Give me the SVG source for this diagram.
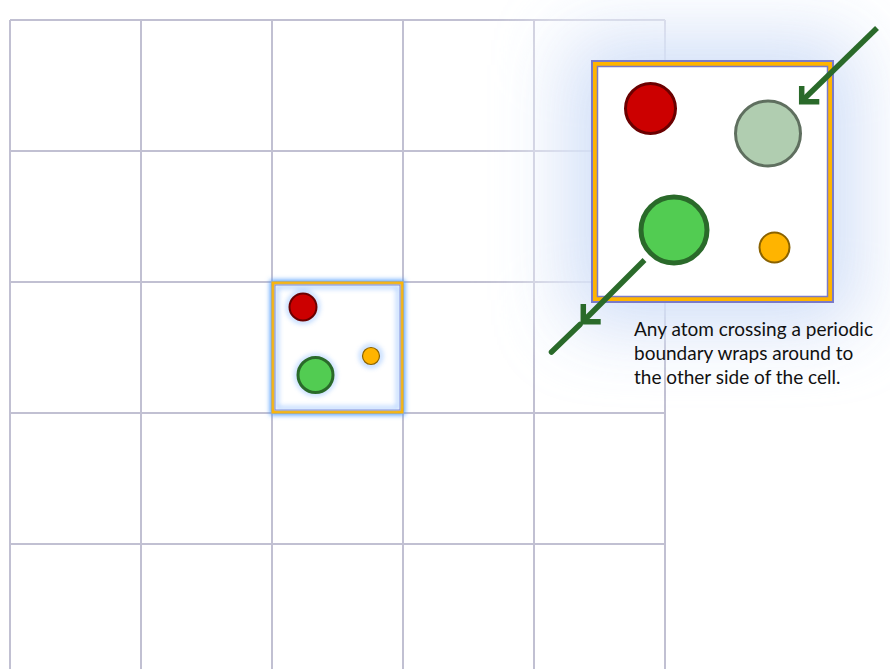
<svg xmlns="http://www.w3.org/2000/svg" width="890" height="669" viewBox="0 0 890 669">
  <defs>
    <style>
      .grid line { stroke: #c1c0d2; stroke-width: 2; }
      .arrow { fill: none; stroke: #2a6a2a; stroke-width: 5.5; }
      .caption { font-family: Lato, "Liberation Sans", sans-serif; font-size: 19px; fill: #111; }
      .red { fill: #cc0000; stroke: #6b0000; }
      .grn { fill: #52cc52; stroke: #2a6a2a; }
      .org { fill: #ffb400; stroke: #8a6200; }
    </style>
    <filter id="bigGlow" x="-60%" y="-60%" width="220%" height="220%">
      <feGaussianBlur stdDeviation="38"/>
    </filter>
    <filter id="whiteGlow" x="-40%" y="-40%" width="180%" height="180%">
      <feGaussianBlur stdDeviation="28"/>
    </filter>
    <filter id="smallGlow" x="-20%" y="-20%" width="140%" height="140%">
      <feGaussianBlur stdDeviation="2.5"/>
    </filter>
  </defs>
  <rect width="890" height="669" fill="#ffffff"/>

  <g id="grid" class="grid">
    <line x1="10" y1="20" x2="665" y2="20"/>
    <line x1="10" y1="151" x2="665" y2="151"/>
    <line x1="10" y1="282" x2="665" y2="282"/>
    <line x1="10" y1="413" x2="665" y2="413"/>
    <line x1="10" y1="544" x2="665" y2="544"/>
    <line x1="10" y1="20" x2="10" y2="669"/>
    <line x1="141" y1="20" x2="141" y2="669"/>
    <line x1="272" y1="20" x2="272" y2="669"/>
    <line x1="403" y1="20" x2="403" y2="669"/>
    <line x1="534" y1="20" x2="534" y2="669"/>
    <line x1="665" y1="20" x2="665" y2="669"/>
  </g>

  <g id="small-cell">
    <g filter="url(#smallGlow)" fill="none" stroke="#4f9bff" stroke-width="6">
      <rect x="273" y="283" width="129" height="129"/>
      <circle cx="303" cy="307" r="14"/>
      <circle cx="315.5" cy="375" r="18"/>
      <circle cx="371" cy="356" r="9"/>
    </g>
    <rect x="273" y="283" width="129" height="129" fill="#ffffff" stroke="#ffb400" stroke-width="3"/>
    <rect x="275" y="285" width="125" height="125" fill="none" stroke="#7a7ac8" stroke-width="1"/>
    <g filter="url(#smallGlow)" fill="none" stroke="#8cbcff" stroke-width="3" opacity="0.8">
      <rect x="277" y="287" width="121" height="121"/>
      <circle cx="303" cy="307" r="15"/>
      <circle cx="315.5" cy="375" r="19"/>
      <circle cx="371" cy="356" r="10"/>
    </g>
    <circle class="red" cx="303" cy="307" r="13.5" stroke-width="2"/>
    <circle class="grn" cx="315.5" cy="375" r="17.5" stroke-width="3"/>
    <circle class="org" cx="371" cy="356" r="8.5" stroke-width="1.2"/>
  </g>

  <g id="big-cell">
    <rect x="530" y="0" width="360" height="330" fill="#ffffff" opacity="0.6" filter="url(#whiteGlow)"/>
    <rect x="570" y="40" width="285" height="285" fill="#c9d9f6" opacity="0.9" filter="url(#bigGlow)"/>
    <rect x="592" y="61" width="241" height="241" fill="#ffb400" stroke="#7a7ac8" stroke-width="2"/>
    <rect x="597.5" y="66.5" width="230" height="230" fill="#ffffff" stroke="#7a7ac8" stroke-width="1.5"/>
    <circle class="red" cx="650.5" cy="108.5" r="25" stroke-width="3"/>
    <circle fill="#b0cdb0" stroke="#5f6f5f" stroke-width="3" cx="768" cy="133.5" r="32.5"/>
    <circle class="grn" cx="674" cy="230" r="33" stroke-width="5"/>
    <circle class="org" cx="774.5" cy="247.5" r="15" stroke-width="2"/>
  </g>

  <g id="connectors">
    <line class="arrow" x1="877" y1="28" x2="803" y2="100"/>
    <polyline class="arrow" points="801.7,86 801.7,101.7 819.3,101.7"/>
    <line class="arrow" x1="644.5" y1="260" x2="585" y2="319.5"/>
    <polyline class="arrow" points="583.3,304 583.3,321.7 600.7,321.7"/>
    <line class="arrow" x1="580" y1="324.5" x2="551.5" y2="352" stroke-linecap="round"/>
  </g>

  <g id="caption" class="caption">
    <text x="634" y="336">Any atom crossing a periodic</text>
    <text x="634" y="360">boundary wraps around to</text>
    <text x="634" y="384">the other side of the cell.</text>
  </g>
</svg>
